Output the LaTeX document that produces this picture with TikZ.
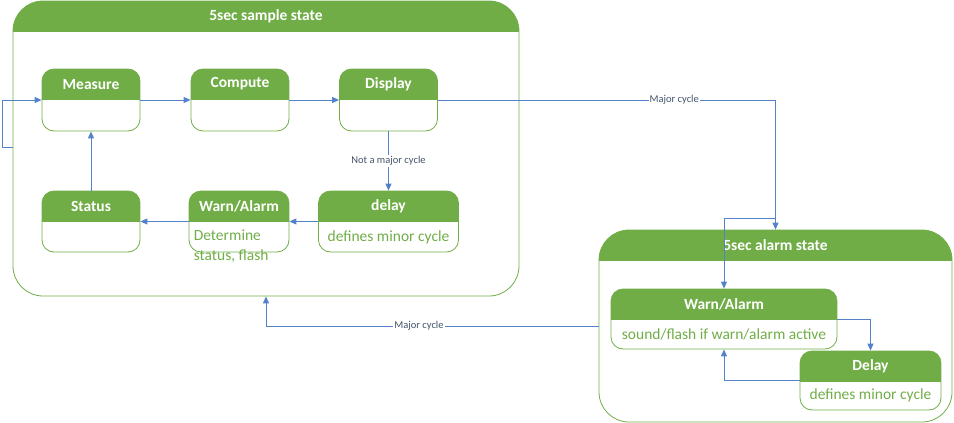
\documentclass[tikz,border=0pt]{standalone}
\usepackage{fontspec}
\setmainfont{Carlito}
\usetikzlibrary{arrows.meta}
\definecolor{statgreen}{RGB}{112,173,71}
\definecolor{edgeblue}{RGB}{84,130,200}
\definecolor{labelgray}{RGB}{68,84,106}

\begin{document}
\begin{tikzpicture}[x=1pt, y=-1pt,
        state_style/.style={draw=statgreen, line width=0.8pt, rounded corners=12pt, inner sep=0pt,
            path picture={\fill[statgreen, sharp corners] (path picture bounding box.north west) rectangle ([yshift=-30.5pt]path picture bounding box.north east);}},
        outer_style/.style={state_style, rounded corners=30pt},
        head_text/.style={anchor=north, minimum height=30.5pt, inner sep=0pt, text=white, font=\fontsize{15.5}{18}\selectfont\bfseries},
        body_text/.style={anchor=south, minimum height=30pt, inner sep=0pt, text=statgreen, font=\fontsize{15.5}{20}\selectfont},
        edge_style/.style={draw=edgeblue, line width=1pt, -{Triangle[length=7pt,width=6pt]}},
        edge_label/.style={fill=white, inner sep=1pt, text=labelgray, font=\fontsize{10.5}{12}\selectfont}]

        \useasboundingbox (0,0) rectangle (954,423);

        \node [outer_style, minimum width=506pt, minimum height=295pt, label={[head_text]north:5sec sample state}] (s) at (266,148.5) {};

        \node [outer_style, minimum width=353pt, minimum height=192pt, label={[head_text]north:5sec alarm state}] (a) at (775.5,326) {};

        \node [state_style, minimum width=98pt, minimum height=62pt, label={[head_text]north:Measure}] (n1) at (91,100) {};

        \node [state_style, minimum width=98pt, minimum height=62pt, label={[head_text]north:Compute}] (n2) at (240,100) {};

        \node [state_style, minimum width=98pt, minimum height=62pt, label={[head_text]north:Display}] (n3) at (388.5,100) {};

        \node [state_style, minimum width=98pt, minimum height=61pt, label={[head_text]north:Status}] (n4) at (91,221.5) {};

        \node [state_style, minimum width=100pt, minimum height=61pt, label={[head_text]north:Warn/Alarm}] (n5) at (239,221.5) {};

        \node [text=statgreen, font=\fontsize{15.5}{20}\selectfont, align=left, anchor=north west, inner sep=0pt] (t5) at ([xshift=5pt,yshift=-8pt]n5.west) {Determine\\status, flash};

        \node [state_style, minimum width=140pt, minimum height=61pt, label={[head_text]north:delay}, label={[body_text]south:defines minor cycle}] (n6) at (388.5,221.5) {};

        \node [state_style, minimum width=226pt, minimum height=60pt, label={[head_text]north:Warn/Alarm}, label={[body_text]south:sound/flash if warn/alarm active}] (a1) at (724,319) {};

        \node [state_style, minimum width=141pt, minimum height=59pt, label={[head_text]north:Delay}, label={[body_text]south:defines minor cycle}] (a2) at (870.5,380.5) {};

        \coordinate (l1) at (13,147);
        \coordinate (e1) at (776,218);

        \draw [edge_style] (l1) -- ++(-11,0) |- (n1.west);

        \draw [edge_style] (n1.east) -- (n2.west);

        \draw [edge_style] (n2.east) -- (n3.west);

        \draw [edge_style] (n3.east) -| node[edge_label, pos=0.35]{Major cycle} (a.north);

        \draw [edge_style] (e1) -| (a1.north);

        \draw [edge_style] (n3.south) -- node[edge_label]{Not a major cycle} (n6.north);

        \draw [edge_style] (n6.west) -- (n5.east);

        \draw [edge_style] (n5.west) -- (n4.east);

        \draw [edge_style] (n4.north) -- (n1.south);

        \draw [edge_style] (a.west) -| node[edge_label, pos=0.27]{Major cycle} (s.south);

        \draw [edge_style] (a1.east) -| (a2.north);

        \draw [edge_style] (a2.west) -| (a1.south);

\end{tikzpicture}
\end{document}
